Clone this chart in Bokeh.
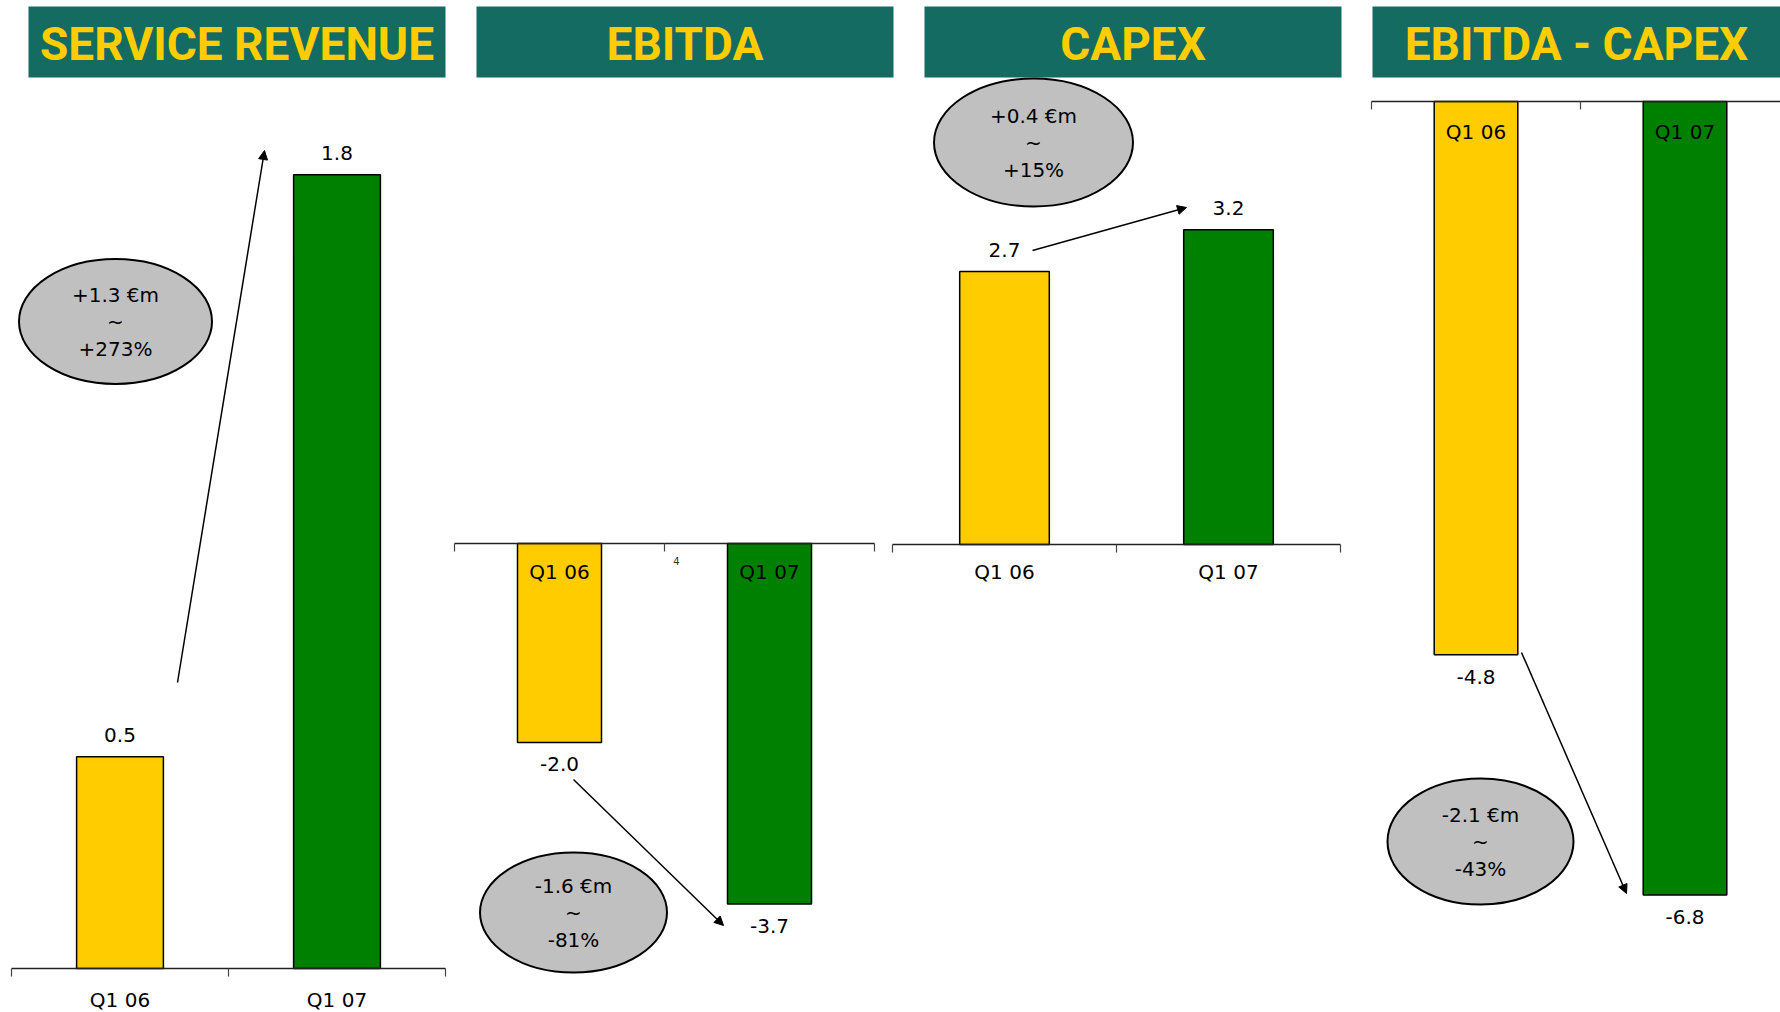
from bokeh.plotting import figure
from bokeh.models import Range1d, Arrow, NormalHead, ColumnDataSource
from bokeh.core.properties import value
from bokeh.embed import file_html
from bokeh.resources import INLINE

# ---------------- data ----------------
categories = ["Q1 06", "Q1 07"]
service_revenue = [0.48, 1.80]
ebitda = [-2.02, -3.66]
capex = [2.74, 3.16]
ebitda_capex = [-4.77, -6.84]
titles = ["SERVICE REVENUE", "EBITDA", "CAPEX", "EBITDA - CAPEX"]
change_abs = ["+1.3 €m", "-1.6 €m", "+0.4 €m", "-2.1 €m"]
change_pct = ["+273%", "-81%", "+15%", "-43%"]
series = [service_revenue, ebitda, capex, ebitda_capex]
bar_colors = ["#FFCC00", "#008000"]

# ---------------- layout (page pixels) ----------------
W, H = 1780, 1012
X0, X1, Y0, Y1 = 0, W, 0, H
# axis left px, category width px, baseline px, px per unit
panels = [
    dict(ax0=11, cw=217, base=968, k=441.0, cat_dy=31),
    dict(ax0=454, cw=210, base=543, k=98.5, cat_dy=28),
    dict(ax0=892, cw=224, base=544, k=99.6, cat_dy=27),
    dict(ax0=1371, cw=209, base=101, k=116.0, cat_dy=30),
]
headers = [(28, 445), (476, 893), (924, 1341), (1372, 1780)]
ellipses = [(115, 321, 193, 125), (573, 912, 187, 120), (1033, 142, 199, 128), (1480, 841, 186, 126)]
arrows = [((177, 682), (264, 150)), ((573, 779), (723, 925)), ((1032, 250), (1186, 207)), ((1521, 652), (1626, 893))]

FONT = value("DejaVu Sans")
TXT = "#000000"

p = figure(width=W, height=H, x_range=Range1d(X0, X1), y_range=Range1d(Y1, Y0),
           output_backend="svg", toolbar_location=None,
           x_axis_location=None, y_axis_location=None, min_border=0)
p.grid.visible = False
p.outline_line_color = None
p.background_fill_color = "white"
p.border_fill_color = "white"

for i, pan in enumerate(panels):
    xr, yr = f"x{i}", f"y{i}"
    p.extra_x_ranges[xr] = Range1d((X0 - pan["ax0"]) / pan["cw"], (X1 - pan["ax0"]) / pan["cw"])
    p.extra_y_ranges[yr] = Range1d((pan["base"] - Y1) / pan["k"], (pan["base"] - Y0) / pan["k"])
    k = pan["k"]
    vals = series[i]
    xs = [j + 0.5 for j in range(len(categories))]

    # header
    hl, hr = headers[i]
    p.quad(left=[hl], right=[hr], top=[6], bottom=[77], fill_color="#136B62", line_color=None)
    p.text(x=[(hl + hr) / 2], y=[43], text=[titles[i]], text_font=value("Roboto"),
           text_font_style="bold", text_font_size="46px", text_color="#FFCC00",
           text_align="center", text_baseline="middle")

    # bars
    src = ColumnDataSource(dict(x=xs, top=vals, color=bar_colors,
                                lab=[f"{v:.1f}" for v in vals],
                                laby=[v + (22 / k if v >= 0 else -22 / k) for v in vals],
                                cat=categories,
                                caty=[-pan["cat_dy"] / k] * len(categories)))
    p.vbar(x="x", top="top", bottom=0, width=0.4, fill_color="color", line_color="black",
           line_width=1.5, source=src, x_range_name=xr, y_range_name=yr)
    # axis line with ticks
    n = len(categories)
    tick = 8 / k
    p.segment(x0=[0], y0=[0], x1=[n], y1=[0], line_color="#222222", line_width=1.5,
              x_range_name=xr, y_range_name=yr)
    p.segment(x0=list(range(n + 1)), y0=[0] * (n + 1), x1=list(range(n + 1)), y1=[-tick] * (n + 1),
              line_color="#444444", line_width=1.2, x_range_name=xr, y_range_name=yr)
    # labels
    p.text(x="x", y="laby", text="lab", source=src, text_font=FONT, text_font_size="20px",
           text_color=TXT, text_align="center", text_baseline="middle",
           x_range_name=xr, y_range_name=yr)
    p.text(x="x", y="caty", text="cat", source=src, text_font=FONT, text_font_size="20px",
           text_color=TXT, text_align="center", text_baseline="middle",
           x_range_name=xr, y_range_name=yr)

    # change ellipse
    ex, ey, ew, eh = ellipses[i]
    p.ellipse(x=[ex], y=[ey], width=[ew], height=[eh], fill_color="#C0C0C0",
              line_color="black", line_width=2)
    p.text(x=[ex] * 3, y=[ey - 27, ey, ey + 27], text=[change_abs[i], "~", change_pct[i]],
           text_font=FONT, text_font_size="20px", text_color=TXT,
           text_align="center", text_baseline="middle")

    # arrow
    (ax, ay), (bx, by) = arrows[i]
    p.add_layout(Arrow(x_start=ax, y_start=ay, x_end=bx, y_end=by, line_width=1.5, line_color="black",
                       end=NormalHead(size=9, fill_color="black", line_color="black")))

# small stray marker text in EBITDA panel
p.text(x=[676], y=[560], text=["4"], text_font=FONT, text_font_size="10px", text_color="#333333",
       text_align="center", text_baseline="middle")

open("out.html", "w").write(file_html(p, INLINE))
